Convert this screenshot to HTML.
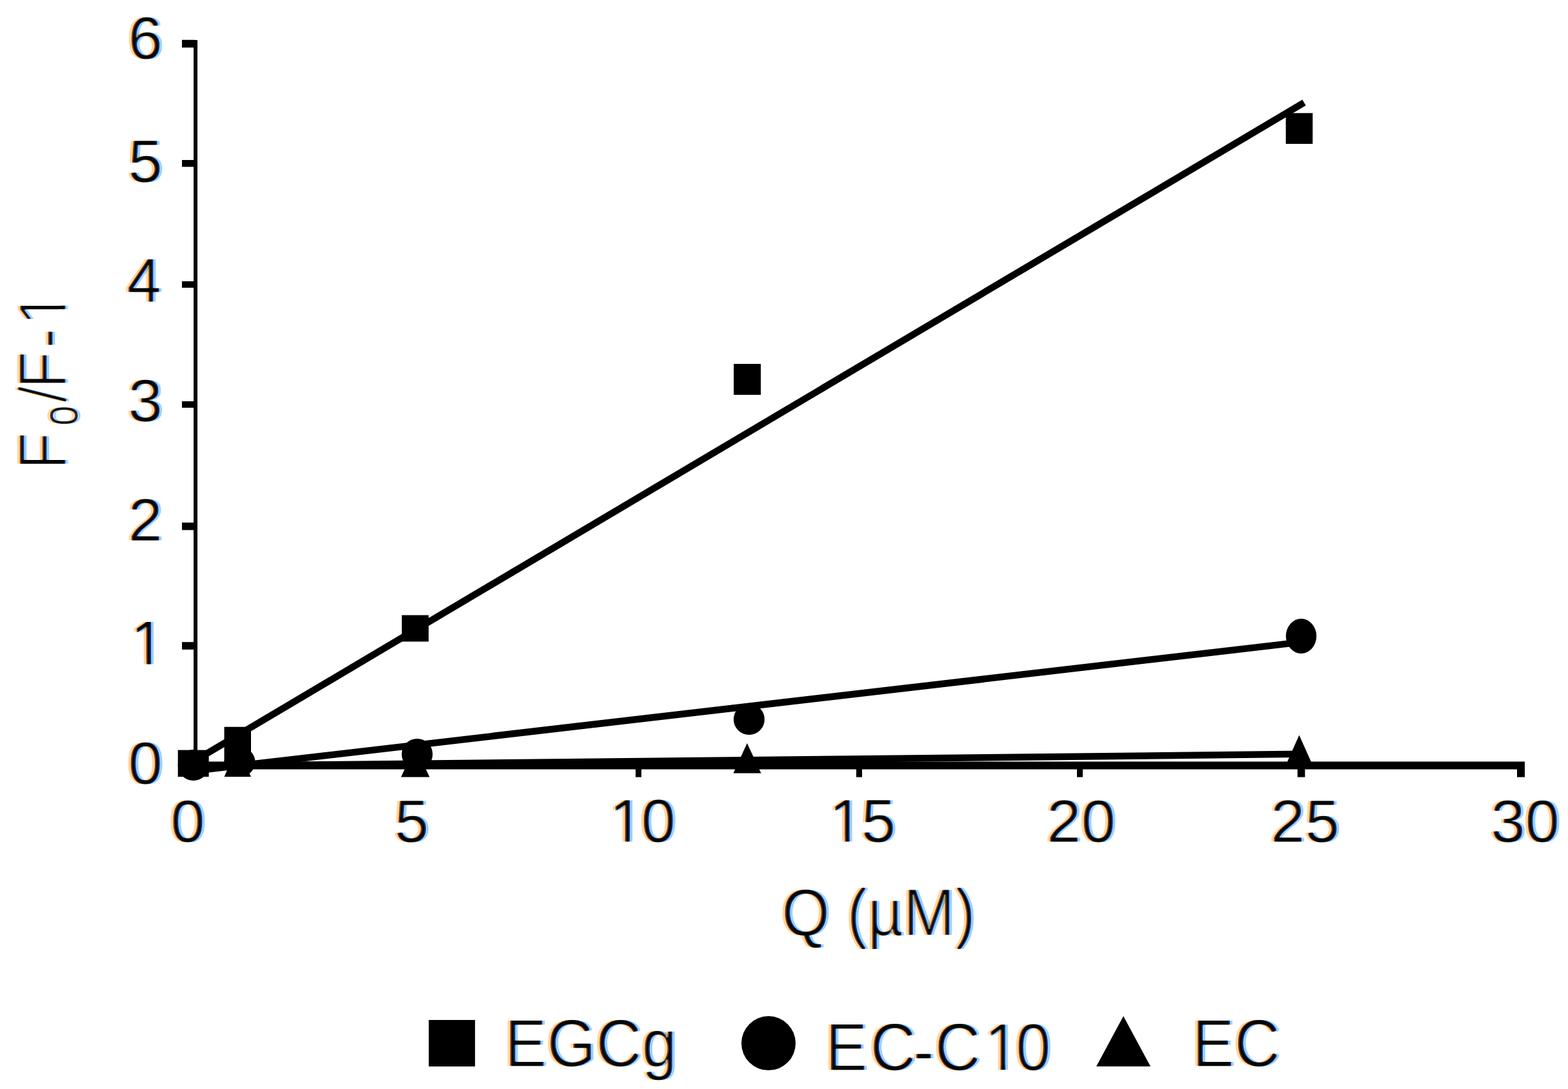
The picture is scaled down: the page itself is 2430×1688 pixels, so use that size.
<!DOCTYPE html>
<html lang="en">
<head>
<meta charset="utf-8">
<title>F0/F-1 vs Q (µM)</title>
<style>
html,body{margin:0;padding:0;background:#fff;}
body{width:2430px;height:1688px;overflow:hidden;}
svg{display:block;}
svg text{font-family:"Liberation Sans",sans-serif;fill:#000;stroke:#fff;stroke-width:3.0;paint-order:fill stroke;stroke-linejoin:round;}
</style>
</head>
<body>
<svg width="2430" height="1688" viewBox="0 0 2430 1688">
<rect x="0" y="0" width="2430" height="1688" fill="#fff"/>
<defs>
<filter id="ct" x="-12%" y="0%" width="124%" height="100%" color-interpolation-filters="sRGB">
<feColorMatrix in="SourceGraphic" type="matrix" values="0 0 0 0 0  0 0 0 0 0  0 0 0 0 0  -1 0 0 1 0"/>
<feMorphology operator="dilate" radius="0 1" result="ink"/>
<feOffset in="ink" dx="-5" dy="0" result="o1"/>
<feColorMatrix in="o1" type="matrix" values="0 0 0 0 1  0 0 0 -0.16 1  0 0 0 -0.41 1  0 0 0 0 1" result="l2"/>
<feOffset in="ink" dx="-1.2" dy="0" result="o2"/>
<feColorMatrix in="o2" type="matrix" values="0 0 0 -0.45 1  0 0 0 -0.78 1  0 0 0 -0.97 1  0 0 0 0 1" result="l1"/>
<feOffset in="ink" dx="1.2" dy="0" result="o3"/>
<feColorMatrix in="o3" type="matrix" values="0 0 0 -0.97 1  0 0 0 -0.8 1  0 0 0 -0.45 1  0 0 0 0 1" result="r1"/>
<feOffset in="ink" dx="5" dy="0" result="o4"/>
<feColorMatrix in="o4" type="matrix" values="0 0 0 -0.41 1  0 0 0 -0.18 1  0 0 0 0 1  0 0 0 0 1" result="r2"/>
<feBlend in="l2" in2="l1" mode="multiply" result="m1"/>
<feBlend in="m1" in2="r1" mode="multiply" result="m2"/>
<feBlend in="m2" in2="r2" mode="multiply"/>
</filter>
<filter id="ctr" x="-12%" y="0%" width="124%" height="100%" color-interpolation-filters="sRGB">
<feColorMatrix in="SourceGraphic" type="matrix" values="0 0 0 0 0  0 0 0 0 0  0 0 0 0 0  -1 0 0 1 0" result="ink"/>
<feOffset in="ink" dx="-5" dy="0" result="o1"/>
<feColorMatrix in="o1" type="matrix" values="0 0 0 0 1  0 0 0 -0.16 1  0 0 0 -0.41 1  0 0 0 0 1" result="l2"/>
<feOffset in="ink" dx="-1.2" dy="0" result="o2"/>
<feColorMatrix in="o2" type="matrix" values="0 0 0 -0.45 1  0 0 0 -0.78 1  0 0 0 -0.97 1  0 0 0 0 1" result="l1"/>
<feOffset in="ink" dx="1.2" dy="0" result="o3"/>
<feColorMatrix in="o3" type="matrix" values="0 0 0 -0.97 1  0 0 0 -0.8 1  0 0 0 -0.45 1  0 0 0 0 1" result="r1"/>
<feOffset in="ink" dx="5" dy="0" result="o4"/>
<feColorMatrix in="o4" type="matrix" values="0 0 0 -0.41 1  0 0 0 -0.18 1  0 0 0 0 1  0 0 0 0 1" result="r2"/>
<feBlend in="l2" in2="l1" mode="multiply" result="m1"/>
<feBlend in="m1" in2="r1" mode="multiply" result="m2"/>
<feBlend in="m2" in2="r2" mode="multiply"/>
</filter>
</defs>
<rect x="300" y="62" width="6" height="1130" fill="#000"/>
<rect x="300" y="1180.5" width="2063" height="12" fill="#000"/>
<rect x="282" y="61.8" width="20" height="11.9" fill="#000"/>
<rect x="282" y="248" width="20" height="10.6" fill="#000"/>
<rect x="282" y="436" width="20" height="10.0" fill="#000"/>
<rect x="282" y="622" width="20" height="10.0" fill="#000"/>
<rect x="282" y="810" width="20" height="11.6" fill="#000"/>
<rect x="282" y="995.2" width="20" height="11.6" fill="#000"/>
<rect x="985" y="1190" width="9.0" height="14.6" fill="#000"/>
<rect x="1327" y="1190" width="9.0" height="14.6" fill="#000"/>
<rect x="1669" y="1190" width="9.0" height="14.6" fill="#000"/>
<rect x="2010.8" y="1190" width="11.6" height="14.6" fill="#000"/>
<rect x="2351" y="1190" width="12.0" height="14.6" fill="#000"/>
<line x1="302" y1="1179" x2="2021" y2="159.1" stroke="#000" stroke-width="10.5"/>
<line x1="303" y1="1194.5" x2="2016" y2="995.4" stroke="#000" stroke-width="10.5"/>
<line x1="303" y1="1187.5" x2="2016" y2="1168.8" stroke="#000" stroke-width="10.5"/>
<rect x="275.7" y="1162.6" width="47.9" height="41.4" fill="#000"/>
<rect x="347.5" y="1126.7" width="41.5" height="66" fill="#000"/>
<rect x="622.7" y="953.5" width="41.6" height="41" fill="#000"/>
<rect x="1137.1" y="564.1" width="41.9" height="47.9" fill="#000"/>
<rect x="1992.7" y="175.3" width="41.6" height="47.7" fill="#000"/>
<ellipse cx="299.7" cy="1186" rx="24" ry="24" fill="#000"/>
<ellipse cx="371.5" cy="1181" rx="24" ry="23" fill="#000"/>
<ellipse cx="646.5" cy="1169" rx="24" ry="24" fill="#000"/>
<ellipse cx="1160.9" cy="1115" rx="24" ry="24" fill="#000"/>
<ellipse cx="2016.5" cy="986" rx="23.7" ry="27" fill="#000"/>
<polygon points="296.6,1164 275.7,1204 317.6,1204" fill="#000"/>
<polygon points="368.2,1157 347.5,1204 389,1204" fill="#000"/>
<polygon points="643.6,1156.4 621.5,1204.4 665.7,1204.4" fill="#000"/>
<polygon points="1157.8,1152 1136.5,1198.4 1179.5,1198.4" fill="#000"/>
<polygon points="2013.4,1139.5 1992.4,1186.5 2034.4,1186.5" fill="#000"/>
<g filter="url(#ct)"><g transform="translate(198.6,90.7) scale(1,0.97)"><text x="0" y="0" font-size="96">6</text>
</g></g>
<g filter="url(#ct)"><g transform="translate(198.6,282.3) scale(1,0.97)"><text x="0" y="0" font-size="96">5</text>
</g></g>
<g filter="url(#ct)"><g transform="translate(198.6,467.5)"><text x="-2" y="0" font-size="96">4</text>
</g></g>
<g filter="url(#ct)"><g transform="translate(198.6,653) scale(1,0.97)"><text x="0" y="0" font-size="96">3</text>
</g></g>
<g filter="url(#ct)"><g transform="translate(198.6,838.2) scale(1,0.97)"><text x="0" y="0" font-size="96">2</text>
</g></g>
<g filter="url(#ct)"><g transform="translate(198.6,1029.8)"><text x="3.5" y="0" font-size="96">1</text>
<rect x="8.2" y="-8.7" width="21" height="10.1" fill="#fff"/>
<rect x="34.6" y="-8.7" width="19.3" height="10.1" fill="#fff"/>
</g></g>
<g filter="url(#ct)"><g transform="translate(198.6,1215.3) scale(1,0.97)"><text x="0" y="0" font-size="96">0</text>
</g></g>
<g filter="url(#ct)"><g transform="translate(264.3,1304.8) scale(1,0.97)"><text x="0" y="0" font-size="96">0</text>
</g></g>
<g filter="url(#ct)"><g transform="translate(611.3,1304.8) scale(1,0.97)"><text x="0" y="0" font-size="96">5</text>
</g></g>
<g filter="url(#ct)"><g transform="translate(938.6,1304.8) scale(1,0.985)"><text x="5.3 54.9" y="0" font-size="96">10</text>
<rect x="10" y="-8.7" width="21" height="10.1" fill="#fff"/>
<rect x="36.4" y="-8.7" width="19.3" height="10.1" fill="#fff"/>
</g></g>
<g filter="url(#ct)"><g transform="translate(1279.6,1304.8) scale(1,0.985)"><text x="5 55.1" y="0" font-size="96">15</text>
<rect x="9.7" y="-8.7" width="21" height="10.1" fill="#fff"/>
<rect x="36.1" y="-8.7" width="19.3" height="10.1" fill="#fff"/>
</g></g>
<g filter="url(#ct)"><g transform="translate(1622.1,1304.8) scale(1,0.97)"><text x="0 53.4" y="0" font-size="96">20</text>
</g></g>
<g filter="url(#ct)"><g transform="translate(1969,1304.8) scale(1,0.97)"><text x="0 53.4" y="0" font-size="96">25</text>
</g></g>
<g filter="url(#ct)"><g transform="translate(2310.2,1304.8) scale(1,0.97)"><text x="0 53.4" y="0" font-size="96">30</text>
</g></g>
<g filter="url(#ct)"><g transform="translate(1211.2,1450) scale(1,1.09)"><text x="0 74.7 101.3 133.3 188.6 268.6" y="0" style="stroke-width:3.5" font-size="96">Q (µM)</text>
</g></g>
<g filter="url(#ctr)"><g transform="translate(102,728.2) rotate(-90) scale(1,1.09)"><text y="0" font-size="96" style="stroke-width:3.2"><tspan x="0">F</tspan><tspan x="68.5" dy="16.5" font-size="56" style="stroke-width:1.4">0</tspan><tspan x="103.8 125.5 188 223.3" dy="-16.5 0 4 -4">/F-1</tspan></text><rect x="228" y="-8.7" width="21" height="10.1" fill="#fff"/><rect x="254.4" y="-8.7" width="19.3" height="10.1" fill="#fff"/></g></g>
<rect x="664.5" y="1581" width="71.7" height="72.1" fill="#000"/>
<g filter="url(#ct)"><g transform="translate(782,1653) scale(1,1.068)"><text x="0 65.4 141.6 212.4" y="0" style="stroke-width:3.5" font-size="98">EGCg</text>
</g></g>
<circle cx="1191" cy="1617.1" r="42" fill="#000"/>
<g filter="url(#ct)"><g transform="translate(1279,1659) scale(1,1.068)"><text x="0 69.4 136.1 169.8 246.3 295" y="0" dy="0 0 6 -6 0 0" style="stroke-width:3.5" font-size="98">EC-C10</text>
<rect x="251.1" y="-8.9" width="21.4" height="10.3" fill="#fff"/>
<rect x="278.1" y="-8.9" width="19.6" height="10.3" fill="#fff"/>
</g></g>
<polygon points="1741,1575 1699,1653.1 1783,1653.1" fill="#000"/>
<g filter="url(#ct)"><g transform="translate(1847.5,1653) scale(1,1.068)"><text x="0 65.4" y="0" style="stroke-width:3.5" font-size="98">EC</text>
</g></g>
</svg>
</body>
</html>
